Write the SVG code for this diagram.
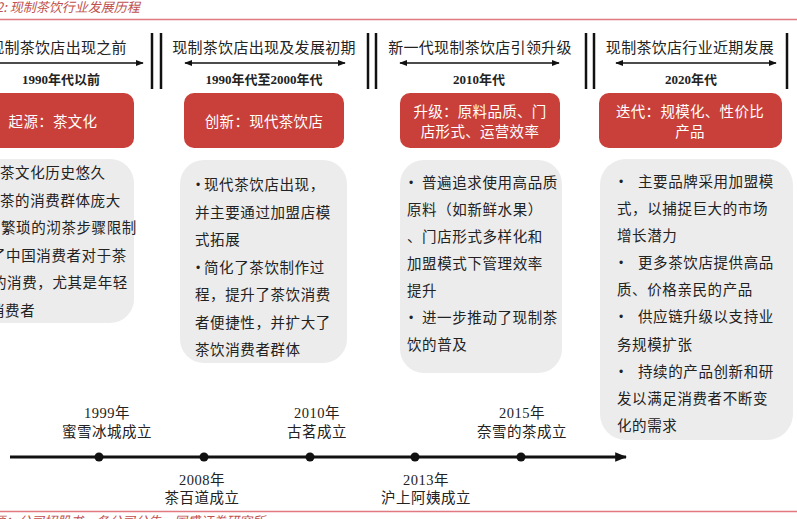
<svg xmlns="http://www.w3.org/2000/svg" width="797" height="519" viewBox="0 0 797 519">
<style>
.hdr{font-family:"Noto Sans CJK SC","Noto Sans",sans-serif;font-size:15px;fill:#222;text-anchor:middle;letter-spacing:0.3px}
.yr{font-family:"Liberation Serif","Noto Sans CJK SC",serif;font-size:13px;font-weight:bold;fill:#222;text-anchor:middle}
.rt{font-family:"Noto Sans CJK SC","Noto Sans",sans-serif;font-size:14.5px;fill:#fff;text-anchor:middle;letter-spacing:0.3px}
.bt{font-family:"Noto Sans CJK SC","Noto Sans",sans-serif;font-size:14.5px;fill:#222;letter-spacing:0.6px}
.bul{font-family:"Liberation Sans",sans-serif;font-size:12px;fill:#222}
.tl{font-family:"Liberation Serif","Noto Sans CJK SC",serif;font-size:14.5px;fill:#222;text-anchor:middle;letter-spacing:0.5px}
.red{fill:#c9403a}
.grey{fill:#ececec}
.sep{stroke:#111;stroke-width:2.5}
.arr{stroke:#111;stroke-width:1.6;fill:none}
.pink{stroke:#e07a80;stroke-width:1.5}
</style>
<defs>
<marker id="ah" viewBox="0 0 10 10" refX="9" refY="5" markerWidth="5" markerHeight="5" orient="auto-start-reverse">
<path d="M0,1 L10,5 L0,9 z" fill="#111"/>
</marker>
<marker id="ah2" viewBox="0 0 10 10" refX="9" refY="5" markerWidth="4" markerHeight="4" orient="auto">
<path d="M0,1 L10,5 L0,9 z" fill="#111"/>
</marker>
</defs>
<rect width="797" height="519" fill="#fff"/>
<g id="title">
<text x="-4" y="12" font-family="Noto Sans CJK SC,sans-serif" font-size="13" font-style="italic" fill="#c0504d">2: 现制茶饮行业发展历程</text>
<line x1="0" y1="19.5" x2="797" y2="19.5" class="pink"/>
</g>
<g id="separators">
<line x1="152" y1="33" x2="152" y2="89" class="sep"/>
<line x1="161" y1="33" x2="161" y2="89" class="sep"/>
<line x1="368" y1="33" x2="368" y2="89" class="sep"/>
<line x1="376" y1="33" x2="376" y2="89" class="sep"/>
<line x1="586" y1="33" x2="586" y2="89" class="sep"/>
<line x1="594" y1="33" x2="594" y2="89" class="sep"/>
<line x1="787" y1="33" x2="787" y2="89" class="sep"/>
</g>
<g id="connectors">
<line x1="-5" y1="63" x2="143" y2="63" class="arr" marker-end="url(#ah)"/>
<line x1="185" y1="63" x2="345" y2="63" class="arr" marker-start="url(#ah)" marker-end="url(#ah)"/>
<line x1="400" y1="63" x2="559" y2="63" class="arr" marker-start="url(#ah)" marker-end="url(#ah)"/>
<line x1="616" y1="63" x2="776" y2="63" class="arr" marker-start="url(#ah)" marker-end="url(#ah)"/>
<line x1="10" y1="457" x2="626" y2="457" stroke="#111" stroke-width="3" marker-end="url(#ah2)"/>
</g>
<g id="col1">
<text x="58" y="53" class="hdr">现制茶饮店出现之前</text>
<text x="61" y="84" class="yr">1990年代以前</text>
<rect x="-20" y="93" width="154" height="55" rx="10" class="red"/>
<text x="53" y="127" class="rt">起源：茶文化</text>
<rect x="-30" y="159" width="164" height="164" rx="24" class="grey"/>
<text class="bt"><tspan x="0" y="178">茶文化历史悠久</tspan><tspan x="0" y="205.5">茶的消费群体庞大</tspan><tspan x="1" y="233">繁琐的沏茶步骤限制</tspan><tspan x="-9" y="260.5">了中国消费者对于茶</tspan><tspan x="-8" y="288">的消费，尤其是年轻</tspan><tspan x="-10" y="315.5">消费者</tspan></text>
</g>
<g id="col2">
<text x="264" y="53" class="hdr">现制茶饮店出现及发展初期</text>
<text x="264" y="84" class="yr">1990年代至2000年代</text>
<rect x="184" y="93" width="160" height="55" rx="10" class="red"/>
<text x="264" y="127" class="rt">创新：现代茶饮店</text>
<rect x="180" y="160" width="167" height="203" rx="24" class="grey"/>
<text x="196" y="189" class="bul">•</text>
<text x="196" y="271.5" class="bul">•</text>
<text class="bt"><tspan x="204" y="190">现代茶饮店出现，</tspan><tspan x="195" y="217.5">并主要通过加盟店模</tspan><tspan x="195" y="245">式拓展</tspan><tspan x="204" y="272.5">简化了茶饮制作过</tspan><tspan x="195" y="300">程，提升了茶饮消费</tspan><tspan x="195" y="327.5">者便捷性，并扩大了</tspan><tspan x="195" y="355">茶饮消费者群体</tspan></text>
</g>
<g id="col3">
<text x="480" y="53" class="hdr">新一代现制茶饮店引领升级</text>
<text x="479" y="84" class="yr">2010年代</text>
<rect x="400" y="93" width="160" height="55" rx="10" class="red"/>
<text x="480" y="117" class="rt">升级：原料品质、门</text>
<text x="480" y="137" class="rt">店形式、运营效率</text>
<rect x="400" y="160" width="162" height="213" rx="24" class="grey"/>
<text x="409" y="187" class="bul">•</text>
<text x="409" y="322" class="bul">•</text>
<text class="bt"><tspan x="422" y="188">普遍追求使用高品质</tspan><tspan x="407" y="215">原料（如新鲜水果）</tspan><tspan x="407" y="242">、门店形式多样化和</tspan><tspan x="407" y="269">加盟模式下管理效率</tspan><tspan x="407" y="296">提升</tspan><tspan x="422" y="323">进一步推动了现制茶</tspan><tspan x="407" y="350">饮的普及</tspan></text>
</g>
<g id="col4">
<text x="690" y="53" class="hdr">现制茶饮店行业近期发展</text>
<text x="691" y="84" class="yr">2020年代</text>
<rect x="599" y="93" width="183" height="55" rx="10" class="red"/>
<text x="690" y="117" class="rt">迭代：规模化、性价比</text>
<text x="690" y="137" class="rt">产品</text>
<rect x="600" y="159" width="193" height="281" rx="26" class="grey"/>
<text x="619" y="186" class="bul">•</text>
<text x="619" y="267" class="bul">•</text>
<text x="619" y="321" class="bul">•</text>
<text x="619" y="376" class="bul">•</text>
<text class="bt"><tspan x="638" y="187">主要品牌采用加盟模</tspan><tspan x="617" y="214">式，以捕捉巨大的市场</tspan><tspan x="617" y="241">增长潜力</tspan><tspan x="638" y="268">更多茶饮店提供高品</tspan><tspan x="617" y="295">质、价格亲民的产品</tspan><tspan x="638" y="322">供应链升级以支持业</tspan><tspan x="617" y="350">务规模扩张</tspan><tspan x="638" y="377">持续的产品创新和研</tspan><tspan x="617" y="404">发以满足消费者不断变</tspan><tspan x="617" y="431">化的需求</tspan></text>
</g>
<g id="timeline">
<circle cx="99" cy="457" r="4.5" fill="#111"/>
<circle cx="204" cy="457" r="4.5" fill="#111"/>
<circle cx="310" cy="457" r="4.5" fill="#111"/>
<circle cx="415" cy="457" r="4.5" fill="#111"/>
<circle cx="521" cy="457" r="4.5" fill="#111"/>
</g>
<g id="m1999"><text x="107" y="418" class="tl">1999年</text><text x="107" y="437" class="tl">蜜雪冰城成立</text></g>
<g id="m2008"><text x="202" y="485" class="tl">2008年</text><text x="202" y="503" class="tl">茶百道成立</text></g>
<g id="m2010"><text x="317" y="418" class="tl">2010年</text><text x="317" y="437" class="tl">古茗成立</text></g>
<g id="m2013"><text x="426" y="485" class="tl">2013年</text><text x="426" y="503" class="tl">沪上阿姨成立</text></g>
<g id="m2015"><text x="522" y="418" class="tl">2015年</text><text x="522" y="437" class="tl">奈雪的茶成立</text></g>
<g id="footer">
<line x1="0" y1="511.5" x2="797" y2="511.5" class="pink"/>
<text x="-8" y="526" font-family="Noto Sans CJK SC,sans-serif" font-size="13" font-style="italic" fill="#c0504d">源：公司招股书，各公司公告，国盛证券研究所</text>
</g>
</svg>
